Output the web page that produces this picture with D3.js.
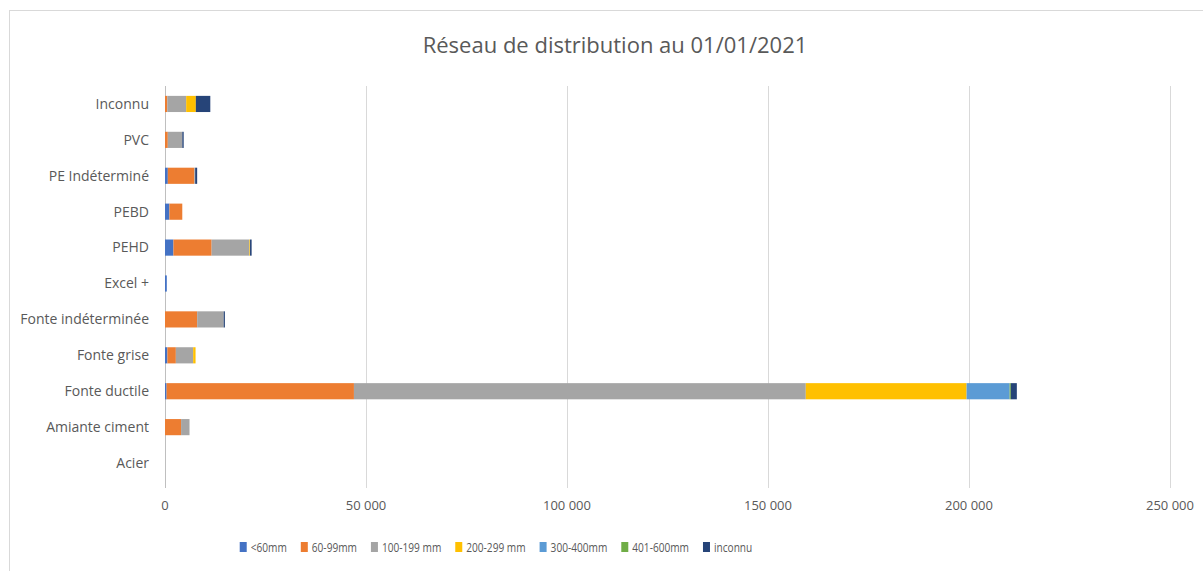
<!DOCTYPE html>
<html>
<head>
<meta charset="utf-8">
<script src="https://cdn.jsdelivr.net/npm/d3@7"></script>
<style>
  body { margin: 0; background: #fff; }
  svg { display: block; font-family: 'Open Sans', sans-serif; }
</style>
</head>
<body>
<svg id="chart" width="1203" height="571"></svg>
<script>
// categories, top to bottom
var categories = ['Inconnu', 'PVC', 'PE Indéterminé', 'PEBD', 'PEHD', 'Excel +',
  'Fonte indéterminée', 'Fonte grise', 'Fonte ductile', 'Amiante ciment', 'Acier']

var seriesNames = ['<60mm', '60-99mm', '100-199 mm', '200-299 mm', '300-400mm', '401-600mm', 'inconnu']
var seriesColors = ['#4472C4', '#ED7D31', '#A5A5A5', '#FFC000', '#5B9BD5', '#70AD47', '#264478']

// length per category (same order as categories)
var lt60 =   [0,    0,    700,  1100, 2100, 450, 0,    600,  400,    0,    0]
var d60 =    [570,  700,  6600, 3200, 9500, 0,   8000, 2100, 46600,  4000, 0]
var d100 =   [4700, 3600, 200,  0,    9400, 0,   6600, 4300, 112400, 2100, 0]
var d200 =   [2400, 0,    0,    0,    150,  0,   0,    600,  40000,  0,    0]
var d300 =   [0,    0,    0,    0,    0,    0,   0,    0,    10700,  0,    0]
var d401 =   [0,    0,    0,    0,    0,    0,   0,    0,    300,    0,    0]
var dUnk =   [3600, 350,  500,  0,    400,  0,   300,  0,    1500,   0,    0]

var xTicks = [0, 50000, 100000, 150000, 200000, 250000]

var values = [lt60, d60, d100, d200, d300, d401, dUnk]
var rows = categories.map(function(c, i) {
  var r = { cat: c }
  seriesNames.forEach(function(s, j) { r[s] = values[j][i] })
  return r
})

var svg = d3.select('#chart')
var width = 1203, height = 571
var plotLeft = 165, plotRight = 1170, plotTop = 86, plotBottom = 488

// outer chart border
svg.append('rect')
  .attr('x', 9.5).attr('y', 10.5)
  .attr('width', 1203).attr('height', 571)
  .attr('fill', 'none').attr('stroke', '#d9d9d9')

svg.append('text')
  .attr('x', 615).attr('y', 53)
  .attr('text-anchor', 'middle')
  .style('font-size', '22px')
  .style('fill', '#595959')
  .text('Réseau de distribution au 01/01/2021')

var x = d3.scaleLinear().domain([0, 250000]).range([plotLeft, plotRight])
var y = d3.scaleBand().domain(categories).range([plotTop, 481]).paddingInner(0.55).paddingOuter(0.275)

var fmt = function(d) { return d3.format(',')(d).replace(/,/g, ' ') }

// gridlines
svg.append('g').selectAll('line')
  .data(xTicks.slice(1))
  .enter().append('line')
  .attr('x1', function(d) { return Math.round(x(d)) + 0.5 })
  .attr('x2', function(d) { return Math.round(x(d)) + 0.5 })
  .attr('y1', plotTop).attr('y2', plotBottom)
  .attr('stroke', '#d9d9d9')

// vertical axis line
svg.append('line')
  .attr('x1', plotLeft + 0.5).attr('x2', plotLeft + 0.5)
  .attr('y1', plotTop).attr('y2', plotBottom)
  .attr('stroke', '#bfbfbf')

var stack = d3.stack().keys(seriesNames)(rows)

svg.append('g').selectAll('g')
  .data(stack)
  .enter().append('g')
  .attr('fill', function(d, i) { return seriesColors[i] })
  .selectAll('rect')
  .data(function(d) { return d })
  .enter().append('rect')
  .attr('x', function(d) { return x(d[0]) })
  .attr('width', function(d) { return x(d[1]) - x(d[0]) })
  .attr('y', function(d) { return y(d.data.cat) })
  .attr('height', y.bandwidth())

// category labels
svg.append('g').selectAll('text')
  .data(categories)
  .enter().append('text')
  .attr('x', plotLeft - 16)
  .attr('y', function(d) { return y(d) + y.bandwidth() / 2 })
  .attr('dy', '0.35em')
  .attr('text-anchor', 'end')
  .style('font-size', '14px')
  .style('fill', '#595959')
  .text(function(d) { return d })

// x tick labels
svg.append('g').selectAll('text')
  .data(xTicks)
  .enter().append('text')
  .attr('x', function(d) { return x(d) })
  .attr('y', 510)
  .attr('text-anchor', 'middle')
  .style('font-size', '13px')
  .style('fill', '#595959')
  .text(fmt)

// legend: text squeezed horizontally (narrow font in the original),
// items laid out from measured widths and centred
var squeeze = 0.75, swatchGap = 11, itemGap = 14
var legendG = svg.append('g')
var legend = legendG.selectAll('g')
  .data(seriesNames)
  .enter().append('g')

legend.append('rect')
  .attr('width', 7).attr('height', 10)
  .attr('fill', function(d, i) { return seriesColors[i] })

legend.append('text')
  .attr('transform', 'translate(' + swatchGap + ',5) scale(' + squeeze + ',1)')
  .attr('dy', '0.36em')
  .style('font-size', '13.5px')
  .style('fill', '#595959')
  .text(function(d) { return d })

var pos = 0, starts = []
legend.each(function() {
  starts.push(pos)
  var w = d3.select(this).select('text').node().getComputedTextLength() * squeeze
  pos += swatchGap + w + itemGap
})
var total = pos - itemGap
var left = 496 - total / 2
legend.attr('transform', function(d, i) { return 'translate(' + (left + starts[i]) + ',542)' })
</script>
</body>
</html>
